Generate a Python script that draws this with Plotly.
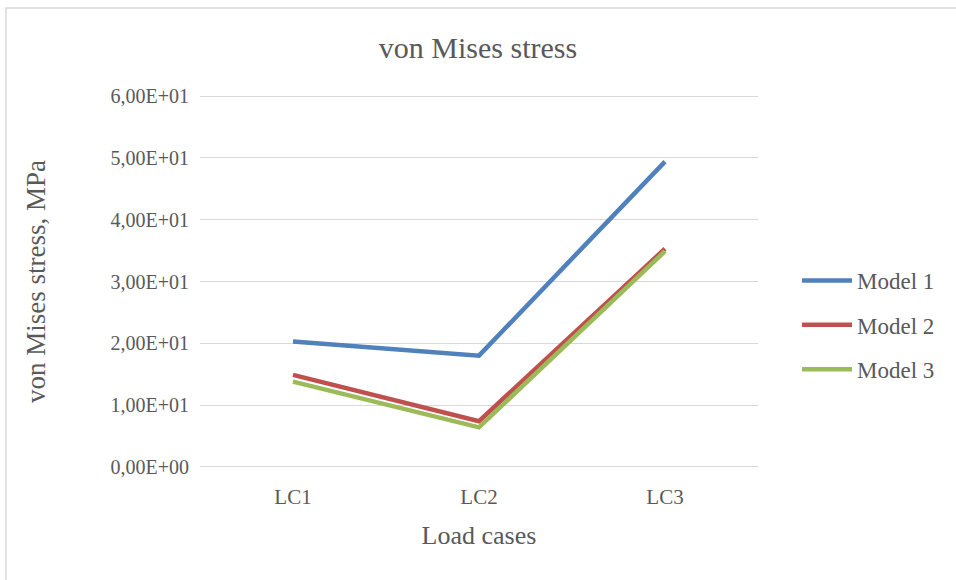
import plotly.graph_objects as go

# Load cases and peak von Mises stress per model (MPa)
load_cases = ["LC1", "LC2", "LC3"]
model_1 = [20.3, 18.0, 49.4]
model_2 = [14.9, 7.4, 35.3]
model_3 = [13.8, 6.4, 34.9]

series_names = ["Model 1", "Model 2", "Model 3"]
series_values = [model_1, model_2, model_3]
series_colors = ["#4F81BD", "#C0504D", "#9BBB59"]

y_tick_values = [0, 10, 20, 30, 40, 50, 60]
y_tick_labels = ["0,00E+00", "1,00E+01", "2,00E+01", "3,00E+01",
                 "4,00E+01", "5,00E+01", "6,00E+01"]

FONT = "Liberation Serif"
TEXT = "#595959"

W, H = 956, 580
L, R, T, B = 200, 198, 93, 110
Y_PAD = 0.5  # keeps the 0 and 60 gridlines inside the plot area

fig = go.Figure()
for name, vals, col in zip(series_names, series_values, series_colors):
    fig.add_trace(go.Scatter(
        x=load_cases, y=vals, name=name, mode="lines",
        line=dict(color=col, width=4.5),
        legendgroup=name,
    ))

pw = W - L - R
ph = H - T - B


def px_x(px):
    return (px - L) / pw


def px_y(py):
    return (H - B - py) / ph


fig.update_layout(
    width=W, height=H,
    margin=dict(l=L, r=R, t=T, b=B),
    paper_bgcolor="white", plot_bgcolor="white",
    font=dict(family=FONT, color=TEXT),
    title=dict(text="von Mises stress", x=0.5, xanchor="center",
               y=1 - 47 / H, yanchor="middle",
               font=dict(size=30, color=TEXT, family=FONT)),
    xaxis=dict(showgrid=False, zeroline=False, showline=False,
               ticks="", tickfont=dict(size=21, color=TEXT),
               ticklabelstandoff=12,
               title=dict(text="Load cases", font=dict(size=26, color=TEXT), standoff=17),
               range=[-0.5, 2.5]),
    yaxis=dict(range=[-Y_PAD, 60 + Y_PAD], tickvals=y_tick_values, ticktext=y_tick_labels,
               showgrid=True, gridcolor="#D9D9D9", gridwidth=1.3,
               zeroline=False, showline=False, ticks="",
               ticklabelstandoff=10,
               tickfont=dict(size=20, color=TEXT),
               title=dict(text="von Mises stress, MPa", font=dict(size=27, color=TEXT), standoff=57)),
    legend=dict(x=px_x(797), xanchor="left", y=px_y(325), yanchor="middle",
                font=dict(size=23, color=TEXT), tracegroupgap=11.5,
                itemwidth=50, bgcolor="rgba(0,0,0,0)"),
    shapes=[dict(type="rect", xref="paper", yref="paper",
                 x0=px_x(6), x1=px_x(970), y0=px_y(600), y1=px_y(8),
                 line=dict(color="#D9D9D9", width=1.5), layer="below")],
)

fig.write_html("out.html")
